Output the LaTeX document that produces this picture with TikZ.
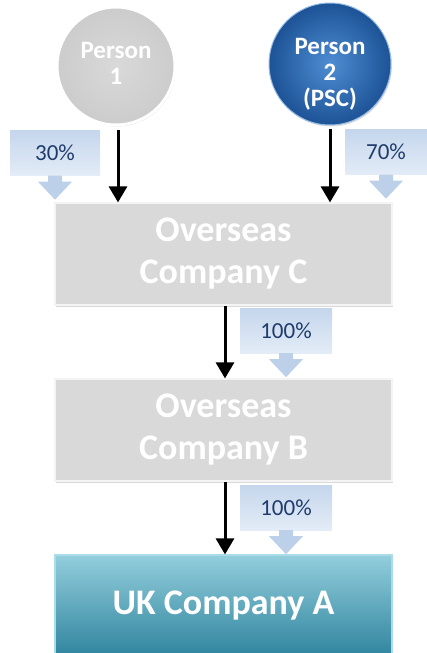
\documentclass[tikz,border=0pt]{standalone}
\usepackage{fontspec}
\setmainfont{Carlito}
\usetikzlibrary{arrows.meta,shadows}
\definecolor{boxgray}{HTML}{D9D9D9}
\definecolor{boxedge}{HTML}{F4F4F4}
\definecolor{pcttop}{HTML}{C5D6EC}
\definecolor{pctbot}{HTML}{E3ECF7}
\definecolor{pctdown}{HTML}{BDD0E9}
\definecolor{pcttext}{HTML}{1F3C6E}
\definecolor{ukA}{HTML}{93CEDC}
\definecolor{ukB}{HTML}{2F849E}
\definecolor{ukedge}{HTML}{AADDE9}
\definecolor{pscin}{HTML}{4E8DD3}
\definecolor{pscout}{HTML}{1D5396}

\newcommand\pctarrow[1]{\fill[pctdown] ([xshift=-7pt]#1.south) -- ++(0,6) -- ++(-10,0) -- ++(17,18) -- ++(17,-18) -- ++(-10,0) -- ++(0,-6) -- cycle;}

\begin{document}
\begin{tikzpicture}[x=1pt,y=-1pt,
  co/.style={rectangle,fill=boxgray,draw=boxedge,line width=1.2pt,minimum width=337pt,minimum height=102pt,
    text=white,align=center,font=\fontsize{36}{42}\selectfont\bfseries,
    drop shadow={opacity=.3,shadow xshift=1pt,shadow yshift=-1.5pt}},
  pct/.style={rectangle,top color=pcttop,bottom color=pctbot,text=pcttext,minimum height=45pt,inner sep=0pt,
    font=\fontsize{23}{26}\selectfont},
  ptxt/.style={text=white,align=center,font=\fontsize{25}{26}\selectfont\bfseries},
  blk/.style={line width=3pt,-{Triangle[width=18pt,length=16pt]}}]
\useasboundingbox (0,0) rectangle (426,653);

\node[circle,minimum size=118pt,inner color=boxgray,outer color=black!20,draw=white,line width=3pt,
  drop shadow={opacity=.25,shadow xshift=1pt,shadow yshift=-1.5pt}] (p1) at (116,66) {};
\node[ptxt] (p1t) at (116,63) {Person\\1};
\node[circle,minimum size=122pt,inner color=pscin,outer color=pscout,draw=pscin!60!white,line width=1pt,
  drop shadow={opacity=.25,shadow xshift=1pt,shadow yshift=-1.5pt}] (p2) at (330,64) {};
\node[ptxt] (p2t) at (330,74) {Person\\2\\(PSC)};

\node[co] (c) at (223.5,254) {Overseas\\Company C};
\node[co] (b) at (223.5,430) {Overseas\\Company B};
\node[co,top color=ukA,bottom color=ukB,draw=ukedge] (a) at (223.5,606) {UK Company A};

\node[pct,minimum width=90pt] (p30) at (55,153) {30\%};
\pctarrow{p30}
\node[pct,minimum width=82pt] (p70) at (386,152) {70\%};
\pctarrow{p70}
\node[pct,minimum width=92pt] (pc100) at (286,330.5) {100\%};
\pctarrow{pc100}
\node[pct,minimum width=92pt] (pb100) at (286,507.5) {100\%};
\pctarrow{pb100}

\draw[blk] ([xshift=2pt,yshift=-3pt]p1.south) -- ([xshift=2pt]p1.south |- c.north);
\draw[blk] ([yshift=-3pt]p2.south) -- (p2.south |- c.north);
\draw[blk] ([xshift=1.5pt]c.south) -- ([xshift=1.5pt]b.north);
\draw[blk] ([xshift=1.5pt]b.south) -- ([xshift=1.5pt]a.north);

\end{tikzpicture}
\end{document}
